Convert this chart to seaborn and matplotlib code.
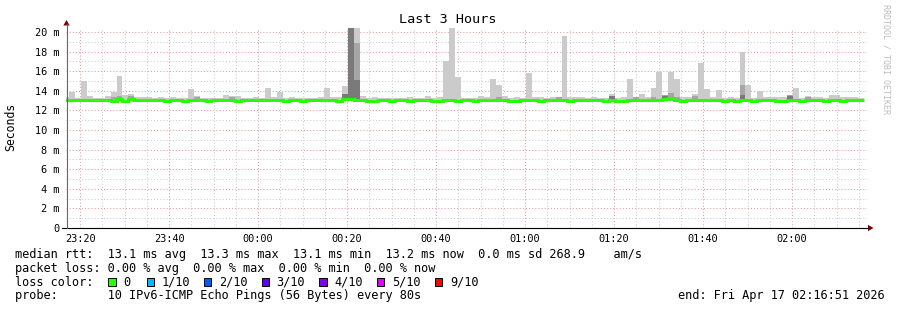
import numpy as np
import pandas as pd
import matplotlib
matplotlib.use("Agg")
import matplotlib.pyplot as plt
import matplotlib.dates as mdates
import matplotlib.transforms as mtransforms
from matplotlib.patches import Polygon, Rectangle
from matplotlib.lines import Line2D
from matplotlib.ticker import MultipleLocator
import seaborn as sns

# ---------------- data ----------------
TITLE = "Last 3 Hours"
Y_LABEL = "Seconds"
FIRST_BIN = "2026-04-16 23:16:12"
STEP_S = 80
END_TIME = "2026-04-17 02:16:51"
SPAN_HOURS = 3

median_rtt_ms = [
    13.1, 13.1, 13.1, 13.1, 13.1, 13.1, 13.1, 13.1, 13.0, 13.2,
    13.0, 13.2, 13.1, 13.1, 13.1, 13.1, 13.1, 13.0, 13.1, 13.1,
    13.0, 13.1, 13.1, 13.1, 13.0, 13.1, 13.1, 13.1, 13.1, 13.0,
    13.1, 13.1, 13.1, 13.1, 13.1, 13.1, 13.1, 13.0, 13.1, 13.1,
    13.0, 13.1, 13.1, 13.1, 13.1, 13.1, 13.0, 13.2, 13.2, 13.1,
    13.1, 13.0, 13.0, 13.1, 13.1, 13.0, 13.1, 13.1, 13.0, 13.1,
    13.1, 13.1, 13.0, 13.0, 13.1, 13.1, 13.0, 13.1, 13.1, 13.0,
    13.1, 13.1, 13.1, 13.1, 13.1, 13.0, 13.0, 13.1, 13.1, 13.1,
    13.0, 13.1, 13.1, 13.1, 13.1, 13.0, 13.1, 13.1, 13.1, 13.1,
    13.1, 13.0, 13.1, 13.0, 13.0, 13.1, 13.1, 13.1, 13.1, 13.1,
    13.1, 13.2, 13.25, 13.1, 13.0, 13.1, 13.1, 13.1, 13.1, 13.1,
    13.1, 13.0, 13.1, 13.0, 13.1, 13.1, 13.0, 13.1, 13.1, 13.1,
    13.0, 13.0, 13.1, 13.1, 13.0, 13.1, 13.1, 13.1, 13.0, 13.1,
    13.1, 13.0, 13.1, 13.1, 13.1,
]

smoke_low_ms = 13.0
smoke_high_ms = [
    13.4, 13.9, 13.3, 15.0, 13.5, 13.3, 13.3, 13.5, 13.9, 15.5,
    13.6, 13.7, 13.35, 13.35, 13.35, 13.3, 13.4, 13.3, 13.4, 13.3,
    13.3, 14.2, 13.5, 13.3, 13.3, 13.3, 13.3, 13.6, 13.5, 13.5,
    13.3, 13.3, 13.4, 13.3, 14.3, 13.4, 13.85, 13.3, 13.35, 13.3,
    13.3, 13.3, 13.3, 13.4, 14.25, 13.4, 13.35, 14.45, 20.4, 20.4,
    13.5, 13.3, 13.35, 13.3, 13.3, 13.3, 13.3, 13.3, 13.4, 13.3,
    13.3, 13.5, 13.3, 13.35, 17.0, 20.4, 15.4, 13.3, 13.3, 13.3,
    13.5, 13.4, 15.2, 14.55, 13.5, 13.3, 13.35, 13.3, 15.8, 13.4,
    13.4, 13.3, 13.35, 13.4, 19.55, 13.4, 13.4, 13.35, 13.3, 13.4,
    13.3, 13.3, 13.7, 13.3, 13.35, 15.2, 13.4, 13.7, 13.4, 14.25,
    15.9, 13.6, 15.9, 15.2, 13.4, 13.35, 13.7, 16.8, 14.15, 13.4,
    14.05, 13.3, 13.35, 13.3, 18.0, 14.55, 13.3, 13.95, 13.4, 13.4,
    13.35, 13.35, 13.6, 14.25, 13.3, 13.5, 13.4, 13.35, 13.3, 13.6,
    13.6, 13.35, 13.4, 13.35, 13.3,
]

mid_bins = [8, 9, 11, 22, 28, 49, 73, 83, 96, 99, 101, 102, 103, 106, 114, 122, 125]
mid_top_ms = [13.4, 13.45, 13.45, 13.4, 13.4, 18.9, 13.4, 13.4, 13.35, 13.4,
              13.6, 13.8, 13.4, 13.45, 14.55, 13.6, 13.4]

dark_bins = [47, 48, 49, 92, 101, 114, 122]
dark_top_ms = [13.7, 20.4, 15.15, 13.45, 13.45, 13.6, 13.45]

ytick_values = [0, 2, 4, 6, 8, 10, 12, 14, 16, 18, 20]
ytick_labels = ["0", "2 m", "4 m", "6 m", "8 m", "10 m", "12 m", "14 m", "16 m", "18 m", "20 m"]

stats_lines = [
    "median rtt:  13.1 ms avg  13.3 ms max  13.1 ms min  13.2 ms now  0.0 ms sd 268.9    am/s",
    "packet loss: 0.00 % avg  0.00 % max  0.00 % min  0.00 % now",
]
loss_title = "loss color:"
loss_labels = ["0", "1/10", "2/10", "3/10", "4/10", "5/10", "9/10"]
loss_colors = ["#26ff00", "#00b8ff", "#0059ff", "#5e00ff", "#7e00ff", "#dd00ff", "#ff0000"]
probe_line = "probe:       10 IPv6-ICMP Echo Pings (56 Bytes) every 80s"
end_line = "end: Fri Apr 17 02:16:51 2026"
watermark = "RRDTOOL / TOBI OETIKER"

# ---------------- layout / style ----------------
W, H = 897, 310
Y_TOP = 20.45
PX_PER_MS = 9.8
LIGHT, MID, DARK = "#cbcbcb", "#a6a6a6", "#7a7a7a"
MGRID, GRID = "#ec9a9a", "#cdcdcd"
ARROW = "#7f0000"
FS_LEGEND = 8.55
FS_TICK = 7.4

sns.set_theme(style="white")
plt.rcParams["font.family"] = ["DejaVu Sans Mono", "DejaVu Sans"]

fig = plt.figure(figsize=(W / 100, H / 100), dpi=100)
fig.patch.set_facecolor("white")
px = mtransforms.Affine2D().scale(1 / W, -1 / H).translate(0, 1) + fig.transFigure

ax = fig.add_axes([66 / W, (H - 228) / H, 801 / W, Y_TOP * PX_PER_MS / H])
ax.set_facecolor("white")

times = pd.date_range(FIRST_BIN, periods=len(smoke_high_ms), freq=f"{STEP_S}s")
x = mdates.date2num(times.to_pydatetime())
w = STEP_S / 86400.0

hi = np.array(smoke_high_ms)
ax.bar(x, hi - smoke_low_ms, width=w, bottom=smoke_low_ms, align="edge",
       color=LIGHT, linewidth=0, zorder=2)
ax.bar(x[mid_bins], np.array(mid_top_ms) - smoke_low_ms, width=w, bottom=smoke_low_ms,
       align="edge", color=MID, linewidth=0, zorder=2.1)
ax.bar(x[dark_bins], np.array(dark_top_ms) - smoke_low_ms, width=w, bottom=smoke_low_ms,
       align="edge", color=DARK, linewidth=0, zorder=2.2)

edges = np.append(x, x[-1] + w)
df = pd.DataFrame({"t": edges, "rtt": list(median_rtt_ms) + [median_rtt_ms[-1]]})
sns.lineplot(data=df, x="t", y="rtt", ax=ax, color=loss_colors[0], linewidth=2.2,
             drawstyle="steps-post", estimator=None, zorder=4,
             solid_capstyle="butt", solid_joinstyle="miter")

end = pd.Timestamp(END_TIME)
start = end - pd.Timedelta(hours=SPAN_HOURS)
ax.set_xlim(mdates.date2num(start.to_pydatetime()), mdates.date2num(end.to_pydatetime()))
ax.set_ylim(0, Y_TOP)
ax.set_xlabel("")
ax.set_ylabel("")

ax.xaxis.set_major_locator(mdates.MinuteLocator(byminute=[0, 20, 40]))
ax.xaxis.set_minor_locator(mdates.MinuteLocator(byminute=range(0, 60, 5)))
ax.xaxis.set_major_formatter(mdates.DateFormatter("%H:%M"))
ax.set_yticks(ytick_values)
ax.set_yticklabels(ytick_labels)
ax.yaxis.set_minor_locator(MultipleLocator(1))

ax.set_axisbelow(True)
ax.grid(True, which="minor", color=GRID, linestyle=(0, (1, 2)), linewidth=0.75)
ax.grid(True, which="major", color=MGRID, linestyle=(0, (1, 2)), linewidth=0.75)

ax.tick_params(axis="both", which="both", length=0, labelsize=FS_TICK, colors="black")
ax.tick_params(axis="x", pad=4)
ax.tick_params(axis="y", pad=4.5)
for s in ax.spines.values():
    s.set_visible(False)

# axes lines and arrows (rrdtool style)
fig.add_artist(Line2D([62, 868], [228, 228], transform=px, color="black", linewidth=0.8))
fig.add_artist(Line2D([66.5, 66.5], [228, 24], transform=px, color="#666666", linewidth=0.8))
fig.add_artist(Polygon([(63.3, 25.5), (69.7, 25.5), (66.5, 20.0)], closed=True,
                       transform=px, facecolor=ARROW, edgecolor="none"))
fig.add_artist(Polygon([(868, 224.8), (868, 231.2), (873.5, 228)], closed=True,
                       transform=px, facecolor=ARROW, edgecolor="none"))

# titles
fig.text(448 / W, 1 - 19.5 / H, TITLE, ha="center", va="center", fontsize=9.7, color="black")
fig.text(11 / W, 1 - 127 / H, Y_LABEL, ha="center", va="center", rotation=90,
         fontsize=8.3, color="black")
fig.text(886 / W, 1 - 59 / H, watermark, ha="center", va="center", rotation=270,
         fontsize=6.0, color="#bdbdbd")

# legend / stats block
baselines = [258.3, 272.0, 285.7, 299.3]
for line, b in zip(stats_lines, baselines[:2]):
    fig.text(15 / W, 1 - b / H, line, ha="left", va="baseline", fontsize=FS_LEGEND, color="black")
fig.text(15 / W, 1 - baselines[2] / H, loss_title, ha="left", va="baseline",
         fontsize=FS_LEGEND, color="black")
square_x = [108.3, 146.7, 204.0, 261.7, 319.3, 376.7, 435.0]
for sx, lab, col in zip(square_x, loss_labels, loss_colors):
    fig.add_artist(Rectangle((sx, baselines[2] - 7.3), 7.3, 7.3, transform=px,
                             facecolor=col, edgecolor="black", linewidth=0.7))
    fig.text((sx + 15) / W, 1 - baselines[2] / H, lab, ha="left", va="baseline",
             fontsize=FS_LEGEND, color="black")
fig.text(15 / W, 1 - baselines[3] / H, probe_line, ha="left", va="baseline",
         fontsize=FS_LEGEND, color="black")
fig.text(678 / W, 1 - baselines[3] / H, end_line, ha="left", va="baseline",
         fontsize=FS_LEGEND, color="black")

fig.savefig("out.png", dpi=100, facecolor="white")
